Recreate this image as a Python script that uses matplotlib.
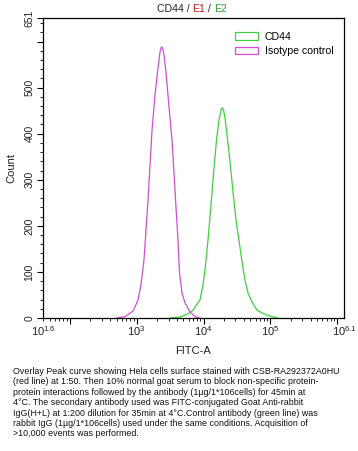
import matplotlib
matplotlib.use("Agg")
import matplotlib.pyplot as plt
from matplotlib.patches import Patch
from matplotlib.ticker import FixedLocator, LogLocator, NullFormatter
import numpy as np

plt.rcParams["font.family"] = ["Liberation Sans", "DejaVu Sans"]
plt.rcParams["mathtext.fontset"] = "custom"
plt.rcParams["mathtext.rm"] = "Liberation Sans"
plt.rcParams["mathtext.it"] = "Liberation Sans"
plt.rcParams["mathtext.default"] = "regular"

# isotype control (magenta) histogram
iso_x = [508, 670, 882, 1048, 1162, 1288, 1380, 1479, 1585, 1698, 1881, 2086,
         2234, 2312, 2371, 2452, 2565, 2748, 3047, 3379, 3615, 3873, 4150,
         4374, 4764, 5284, 6281, 7447, 8851]
iso_y = [0, 3, 15, 39, 72, 126, 191, 256, 332, 408, 484, 543,
         577, 586, 588, 585, 571, 532, 458, 386, 315, 241, 169,
         98, 54, 33, 13, 3, 0]

# CD44 (green) histogram
cd44_x = [3155, 4446, 5858, 6961, 7983, 8851, 9817, 10515, 11660, 12932,
          14333, 15631, 17025, 18432, 19095, 19877, 20937, 22436, 24883,
          27606, 30549, 33884, 37584, 41687, 46238, 53088, 62951, 74817,
          88920, 105682, 129720]
cd44_y = [0, 2, 9, 17, 30, 39, 72, 104, 169, 245,
          326, 386, 430, 453, 456, 452, 434, 397, 339,
          273, 213, 169, 122, 82, 54, 35, 17, 11,
          6, 3, 0]

x_ticks = [10 ** 1.6, 1e3, 1e4, 1e5, 10 ** 6.1]
x_labels = ["$10^{1.6}$", "$10^{3}$", "$10^{4}$", "$10^{5}$", "$10^{6.1}$"]
y_ticks = [0, 100, 200, 300, 400, 500, 600, 651]
y_labels = ["0", "100", "200", "300", "400", "500", "", "651"]

caption = ("Overlay Peak curve showing Hela cells surface stained with CSB-RA292372A0HU\n"
           "(red line) at 1:50. Then 10% normal goat serum to block non-specific protein-\n"
           "protein interactions followed by the antibody (1µg/1*106cells) for 45min at\n"
           "4°C. The secondary antibody used was FITC-conjugated Goat Anti-rabbit\n"
           "IgG(H+L) at 1:200 dilution for 35min at 4°C.Control antibody (green line) was\n"
           "rabbit IgG (1µg/1*106cells) used under the same conditions. Acquisition of\n"
           ">10,000 events was performed.")

green = "#3fcf3f"
magenta = "#d04fd0"

fig = plt.figure(figsize=(3.58, 4.51), dpi=100)
ax = fig.add_axes([43 / 358, 1 - 318 / 451, 301 / 358, 300 / 451])

ax.plot(cd44_x, cd44_y, color=green, lw=0.9)
ax.plot(iso_x, iso_y, color=magenta, lw=0.9)

ax.set_xscale("log")
ax.set_xlim(10 ** 1.6, 10 ** 6.1)
ax.set_ylim(0, 651)

ax.xaxis.set_major_locator(FixedLocator([1e2, 1e3, 1e4, 1e5, 1e6]))
ax.xaxis.set_minor_locator(LogLocator(base=10, subs=np.arange(2, 10)))
ax.xaxis.set_minor_formatter(NullFormatter())
ax.set_xticklabels([])
for xv, lab in zip(x_ticks, x_labels):
    ax.text(xv, -13, lab, ha="center", va="top", fontsize=8, color="#222222")

ax.set_yticks(y_ticks)
ax.set_yticklabels(y_labels, rotation=90, va="center", fontsize=7.5, color="#222222")
ax.yaxis.set_minor_locator(FixedLocator(list(range(20, 651, 20))))

ax.tick_params(axis="both", which="major", direction="out", length=4, width=0.8)
ax.tick_params(axis="both", which="minor", direction="out", length=2.5, width=0.6)
ax.tick_params(axis="y", pad=2)
for s in ax.spines.values():
    s.set_linewidth(0.9)

ax.set_ylabel("Count", fontsize=8, color="#222222", labelpad=6)
ax.set_xlabel("FITC-A", fontsize=8, color="#222222", labelpad=13)

handles = [Patch(facecolor="none", edgecolor=green, lw=0.9, label="CD44"),
           Patch(facecolor="none", edgecolor=magenta, lw=0.9, label="Isotype control")]
ax.legend(handles=handles, loc="upper right", bbox_to_anchor=(0.985, 0.975),
          frameon=False, fontsize=7.6, handlelength=2.2, handleheight=0.7,
          labelspacing=0.4, handletextpad=0.6, borderaxespad=0.2)

# title with coloured parts
tx, ty = 157 / 358, 1 - 9 / 451
t = fig.text(tx, ty, "CD44 / ", fontsize=7.6, color="#222222", va="center")
fig.canvas.draw()
r = fig.canvas.get_renderer()
parts = [("E1", "#cc1a1a"), (" / ", "#222222"), ("E2", "#2f9a2f")]
x0 = t.get_window_extent(r).x1
for s, c in parts:
    tt = fig.text(x0 / fig.bbox.width, ty, s, fontsize=7.6, color=c, va="center")
    x0 = tt.get_window_extent(r).x1

fig.text(13 / 358, 1 - 367 / 451, caption, fontsize=6.4, va="top", ha="left",
         linespacing=1.2, color="#111111")

fig.savefig("out.png", dpi=100)
